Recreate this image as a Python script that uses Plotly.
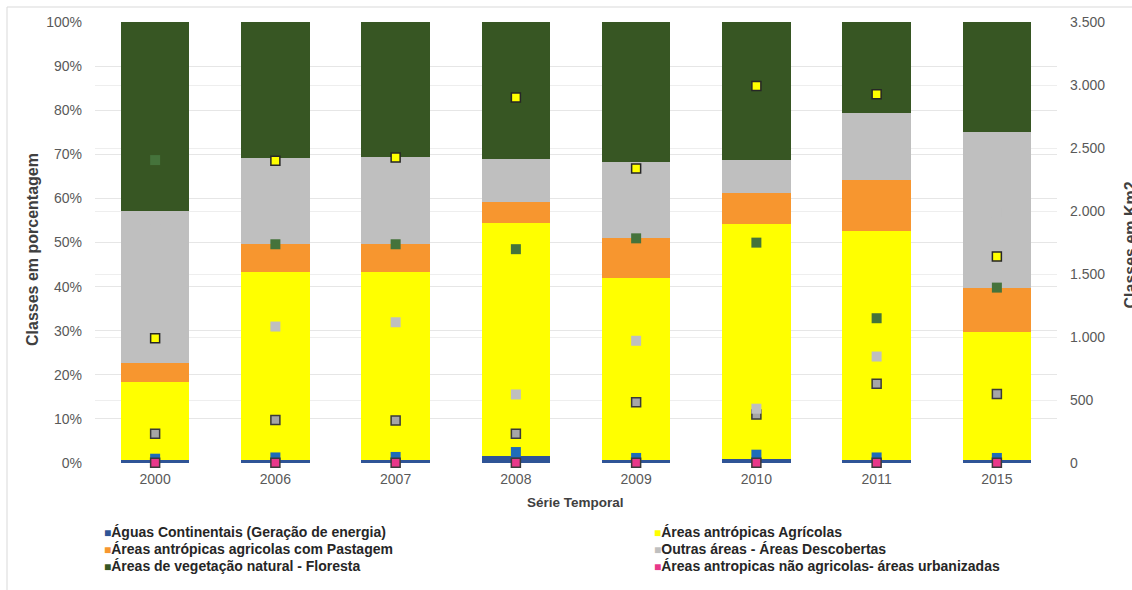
import plotly.graph_objects as go

# Years of the time series
anos = ["2000", "2006", "2007", "2008", "2009", "2010", "2011", "2015"]

# Share of each land-cover class (% of total area), stacked to 100%
pct_urbanizadas = [0.02, 0.02, 0.02, 0.02, 0.02, 0.02, 0.02, 0.02]
pct_aguas = [0.6, 0.6, 0.6, 1.5, 0.6, 1.0, 0.6, 0.6]
pct_agricolas = [17.8, 42.8, 42.7, 52.8, 41.4, 53.2, 52.1, 29.1]
pct_pastagem = [4.2, 6.3, 6.3, 4.8, 8.9, 6.9, 11.5, 9.9]
pct_outras = [34.5, 19.4, 19.8, 9.8, 17.3, 7.6, 15.1, 35.5]
pct_floresta = [42.9, 30.9, 30.6, 31.1, 31.8, 31.3, 20.7, 24.9]

# Area of each class in km2 (right axis)
km2_aguas = [34, 44, 48, 87, 40, 66, 44, 40]
km2_pastagem = [232, 341, 338, 232, 483, 384, 629, 547]
km2_agricolas = [991, 2398, 2425, 2901, 2338, 2993, 2927, 1638]
km2_outras = [1930, 1083, 1117, 544, 970, 431, 845, 1985]
km2_floresta = [2404, 1736, 1736, 1697, 1783, 1749, 1149, 1392]
km2_urbanizadas = [2, 2, 2, 2, 2, 2, 2, 2]

# Axis ticks
pct_ticks = list(range(0, 101, 10))
pct_labels = [f"{v}%" for v in pct_ticks]
km2_ticks = list(range(0, 3501, 500))

# Class names
nomes = {
    "aguas": "Águas Continentais (Geração de energia)",
    "agricolas": "Áreas antrópicas Agrícolas",
    "pastagem": "Áreas antrópicas agricolas com Pastagem",
    "outras": "Outras áreas - Áreas Descobertas",
    "floresta": "Áreas de vegetação natural - Floresta",
    "urbanizadas": "Áreas antropicas não agricolas- áreas urbanizadas",
}

cores_barra = {
    "aguas": "#2f5496",
    "urbanizadas": "#e8388a",
    "agricolas": "#ffff00",
    "pastagem": "#f7962f",
    "outras": "#bfbfbf",
    "floresta": "#375623",
}

W, H = 1132, 590
L, R, T, B = 95, 75, 22, 127
PW, PH = W - L - R, H - T - B


def px(x):
    return (x - L) / PW


def py(y):
    return (H - B - y) / PH


fig = go.Figure()

# 100% stacked bars (left axis)
for chave, vals in [
    ("urbanizadas", pct_urbanizadas),
    ("aguas", pct_aguas),
    ("agricolas", pct_agricolas),
    ("pastagem", pct_pastagem),
    ("outras", pct_outras),
    ("floresta", pct_floresta),
]:
    fig.add_trace(go.Bar(
        x=anos, y=vals, name=nomes[chave],
        marker=dict(color=cores_barra[chave], line=dict(width=0)),
        showlegend=False, yaxis="y",
    ))

# Area markers (right axis)
marcadores = [
    ("aguas", km2_aguas, "#1f6cb8", None),
    ("pastagem", km2_pastagem, "#a6a6a6", "#3a3a3a"),
    ("agricolas", km2_agricolas, "#ffff00", "#262626"),
    ("outras", km2_outras, "#bfbfbf", None),
    ("floresta", km2_floresta, "#45733b", None),
    ("urbanizadas", km2_urbanizadas, "#e8388a", "#3a3a3a"),
]
for chave, vals, cor, borda in marcadores:
    fig.add_trace(go.Scatter(
        x=anos, y=vals, mode="markers", name=nomes[chave] + " (km²)",
        marker=dict(symbol="square", size=9 if borda else 10, color=cor,
                    line=dict(color=borda or cor, width=1.5 if borda else 0)),
        cliponaxis=False, showlegend=False, yaxis="y2",
    ))

fonte = "Liberation Sans, Arial, sans-serif"

fig.update_layout(
    width=W, height=H,
    margin=dict(l=L, r=R, t=T, b=B),
    paper_bgcolor="white", plot_bgcolor="white",
    barmode="stack", bargap=0.43,
    separators=",.",
    font=dict(family=fonte, size=14, color="#595959"),
    xaxis=dict(type="category", showgrid=False, showline=False, ticks="",
               ticklabelstandoff=6, tickfont=dict(size=14, color="#595959")),
    yaxis=dict(range=[0, 100], tickmode="array", tickvals=pct_ticks,
               ticktext=pct_labels,
               showgrid=True, gridcolor="#e6e6e6", gridwidth=1, zeroline=False,
               showline=False, ticks="", ticklabelstandoff=12,
               tickfont=dict(size=14, color="#595959")),
    yaxis2=dict(range=[0, 3500], tickvals=km2_ticks, tickformat=",d",
                overlaying="y", side="right",
                showgrid=True, gridcolor="#eeeeee", gridwidth=1, zeroline=False,
                showline=False, ticks="", ticklabelstandoff=12,
                tickfont=dict(size=14, color="#595959")),
    showlegend=False,
)

anot = []
# Axis titles
anot.append(dict(text="<b>Classes em porcentagem</b>", textangle=-90,
                 x=px(32), y=py(250), xref="paper", yref="paper",
                 xanchor="center", yanchor="middle", showarrow=False,
                 font=dict(family=fonte, size=16, color="#404040")))
anot.append(dict(text="<b>Classes em Km2</b>", textangle=-90,
                 x=px(1119), y=py(245), xref="paper", yref="paper",
                 xanchor="left", yanchor="middle", showarrow=False,
                 font=dict(family=fonte, size=16, color="#404040")))
anot.append(dict(text="<b>Série Temporal</b>",
                 x=px(575), y=py(502), xref="paper", yref="paper",
                 xanchor="center", yanchor="middle", showarrow=False,
                 font=dict(family=fonte, size=13.5, color="#404040")))

# Legend in two columns
itens_legenda = [
    ("aguas", 102, 532), ("agricolas", 652, 532),
    ("pastagem", 102, 549), ("outras", 652, 549),
    ("floresta", 102, 566), ("urbanizadas", 652, 566),
]
for chave, lx, ly in itens_legenda:
    anot.append(dict(
        text=f'<span style="color:{cores_barra[chave]};font-size:12px">■</span><b>{nomes[chave]}</b>',
        x=px(lx), y=py(ly), xref="paper", yref="paper",
        xanchor="left", yanchor="middle", showarrow=False,
        font=dict(family=fonte, size=14, color="#262626"),
    ))
fig.update_layout(annotations=anot)

# Chart frame
fig.add_shape(type="rect", xref="paper", yref="paper",
              x0=px(7), y0=py(600), x1=px(1145), y1=py(7),
              line=dict(color="#d9d9d9", width=1), fillcolor="rgba(0,0,0,0)",
              layer="below")

fig.write_html("out.html")
